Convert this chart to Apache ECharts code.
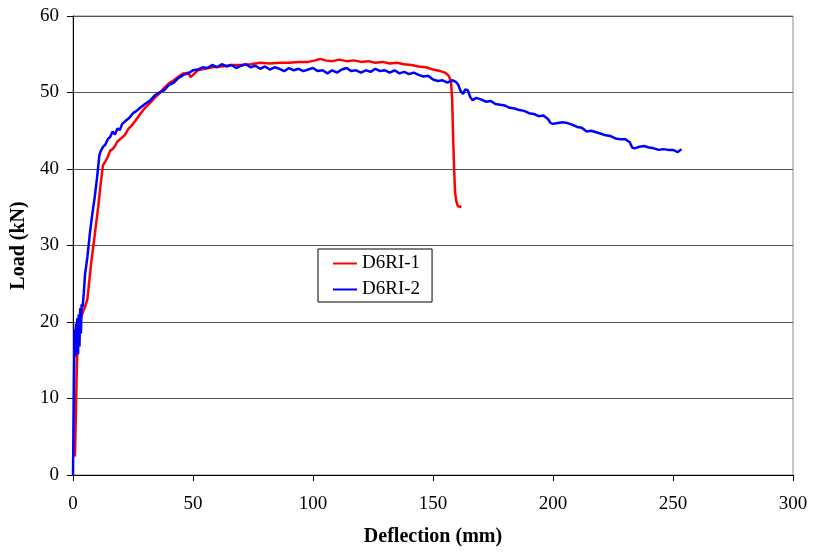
<!DOCTYPE html>
<html>
<head>
<meta charset="utf-8">
<script src="https://cdn.jsdelivr.net/npm/echarts@6/dist/echarts.min.js"></script>
<style>html,body{margin:0;padding:0;background:#fff}#c{width:813px;height:553px}</style>
</head>
<body>
<div id="c"></div>
<script>
const seriesNames = ['D6RI-1', 'D6RI-2'];
const xTicks = [0, 50, 100, 150, 200, 250, 300];
const yTicks = [0, 10, 20, 30, 40, 50, 60];

const d6ri1 = [[0.8,2.4],[1.2,8],[1.6,14],[2.0,18],[2.5,19.5],[3.0,20.3],[4.0,21.2],[5.0,22.0],[6.0,23.0],[6.5,24.5],[7.5,27.5],[8.5,30],[9.5,32.5],[10.5,35],[11.5,38],[12.5,40.5],[13.5,41.0],[14.5,41.6],[15.5,42.4],[16.5,42.6],[17.5,43.0],[18.5,43.6],[20,44.0],[21.5,44.4],[23,45.2],[24.5,45.7],[26,46.3],[28,47.2],[30,48.0],[32,48.6],[34,49.3],[36,49.9],[38,50.6],[40,51.2],[42,51.6],[44,52.1],[46,52.5],[48,52.6],[49,52.0],[50,52.3],[52,52.9],[55,53.1],[58,53.3],[62,53.4],[66,53.6],[70,53.6],[74,53.7],[78,53.9],[82,53.8],[86,53.9],[90,53.9],[94,54.0],[98,54.0],[101,54.2],[103,54.4],[105,54.2],[108,54.1],[111,54.3],[114,54.1],[117,54.2],[120,54.0],[123,54.1],[126,53.9],[129,54.0],[132,53.8],[135,53.9],[138,53.7],[141,53.6],[144,53.4],[147,53.3],[150,53.0],[153,52.8],[155,52.6],[156.5,52.2],[157.5,51.5],[158,49],[158.4,44],[158.8,40],[159.2,37],[159.7,35.8],[160.3,35.2],[161.2,35.0],[161.7,35.2]];

const d6ri2 = [[0,0],[0.2,6],[0.4,12],[0.6,17.5],[0.8,19],[1.0,15.5],[1.2,19.8],[1.5,16.2],[1.8,20.5],[2.1,15.8],[2.4,21],[2.7,16.8],[3.0,21.8],[3.3,18.5],[3.6,22.3],[4.0,22],[4.5,23.8],[5.0,26.2],[6.0,28.5],[7.0,31.5],[8.0,34],[9.0,36.2],[10.0,38.8],[11.0,41.8],[11.5,42.3],[12.5,42.9],[13.5,43.2],[14.5,43.9],[15.5,44.2],[16.5,44.9],[17.5,44.5],[18.5,45.3],[19.5,45.1],[20.5,45.9],[22,46.3],[23.5,46.7],[25,47.3],[26.5,47.6],[28,48.0],[30,48.5],[32,48.9],[34,49.6],[36,50.0],[38,50.3],[40,51.0],[42,51.3],[44,51.9],[46,52.3],[48,52.5],[50,52.9],[52,53.0],[54,53.3],[56,53.2],[58,53.6],[60,53.3],[62,53.7],[64,53.4],[66,53.6],[68,53.2],[70,53.5],[72,53.7],[74,53.3],[76,53.5],[78,53.1],[80,53.4],[82,53.0],[84,53.3],[86,53.1],[88,52.8],[90,53.2],[92,52.9],[94,53.1],[96,52.8],[98,53.0],[100,53.2],[102,52.8],[104,52.9],[106,52.5],[108,52.9],[110,52.6],[112,53.0],[114,53.2],[116,52.8],[118,52.9],[120,52.6],[122,52.9],[124,52.7],[126,53.1],[128,52.8],[130,52.9],[132,52.6],[134,52.9],[136,52.5],[138,52.7],[140,52.4],[142,52.6],[144,52.3],[146,52.1],[148,52.2],[150,51.7],[152,51.5],[154,51.6],[156,51.3],[158,51.6],[159.5,51.4],[160.5,51.0],[161.5,50.2],[162.5,49.8],[163.5,50.4],[164.5,50.3],[165.5,49.4],[166.5,49.0],[168,49.3],[170,49.1],[172,48.8],[174,48.9],[176,48.5],[178,48.4],[180,48.3],[182,48.0],[184,47.9],[186,47.7],[188,47.6],[190,47.3],[192,47.2],[194,46.9],[196,47.0],[198,46.5],[199,46.0],[200,45.9],[202,46.0],[204,46.1],[206,46.0],[208,45.8],[210,45.5],[212,45.4],[214,44.9],[216,45.0],[218,44.8],[220,44.6],[222,44.4],[224,44.3],[226,44.0],[228,43.9],[230,43.9],[232,43.5],[233,42.8],[234,42.7],[236,42.9],[238,43.0],[240,42.8],[242,42.7],[244,42.5],[246,42.6],[248,42.5],[250,42.5],[252,42.2],[253.5,42.6]];

const font = 'Liberation Serif, Times New Roman, serif';
const chart = echarts.init(document.getElementById('c'));
chart.setOption({
  animation: false,
  backgroundColor: '#fff',
  grid: { left: 73, right: 20, top: 16, bottom: 78, show: true, borderColor: '#8c8c8c', borderWidth: 1, backgroundColor: 'transparent' },
  legend: {
    data: seriesNames.map(n => ({ name: n, icon: 'rect' })),
    orient: 'vertical',
    left: 318, top: 249,
    itemWidth: 24, itemHeight: 2, itemGap: 7,
    padding: [5, 12, 3, 15],
    borderColor: '#000', borderWidth: 1,
    textStyle: { fontFamily: font, fontSize: 19, color: '#000' }
  },
  xAxis: {
    type: 'value', min: xTicks[0], max: xTicks[xTicks.length - 1], interval: 50,
    name: 'Deflection (mm)', nameLocation: 'middle', nameGap: 52,
    nameTextStyle: { fontFamily: font, fontSize: 20, fontWeight: 'bold', color: '#000' },
    axisLine: { show: true, onZero: false, lineStyle: { color: '#000', width: 1 } },
    axisTick: { show: true, inside: false, length: 6, lineStyle: { color: '#000' } },
    axisLabel: { fontFamily: font, fontSize: 19, color: '#000', margin: 20 },
    splitLine: { show: false }
  },
  yAxis: {
    type: 'value', min: yTicks[0], max: yTicks[yTicks.length - 1], interval: 10,
    name: 'Load (kN)', nameLocation: 'middle', nameGap: 43, nameRotate: 90,
    nameTextStyle: { fontFamily: font, fontSize: 20, fontWeight: 'bold', color: '#000' },
    axisLine: { show: true, onZero: false, lineStyle: { color: '#000', width: 1 } },
    axisTick: { show: true, inside: false, length: 6, lineStyle: { color: '#000' } },
    axisLabel: { fontFamily: font, fontSize: 19, color: '#000', margin: 14 },
    splitLine: { show: true, lineStyle: { color: '#555', width: 1 } }
  },
  series: [
    { name: seriesNames[0], type: 'line', data: d6ri1, showSymbol: false, symbol: 'none', lineStyle: { color: '#ff0000', width: 2.5 }, itemStyle: { color: '#ff0000' }, z: 3 },
    { name: seriesNames[1], type: 'line', data: d6ri2, showSymbol: false, symbol: 'none', lineStyle: { color: '#0000ff', width: 2.5 }, itemStyle: { color: '#0000ff' }, z: 4 }
  ]
});
</script>
</body>
</html>
